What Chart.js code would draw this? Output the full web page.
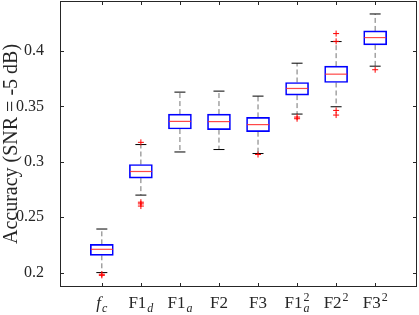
<!DOCTYPE html>
<html><head><meta charset="utf-8">
<script src="https://cdn.jsdelivr.net/npm/chart.js@4/dist/chart.umd.min.js"></script>
<style>html,body{margin:0;padding:0;background:#fff}#wrap{width:419px;height:315px}</style>
</head><body><div id="wrap"><canvas id="c" width="419" height="315"></canvas></div>
<script>
// ---- data ----
const labelMain = ['f', 'F1', 'F1', 'F2', 'F3', 'F1', 'F2', 'F3'];
const labelSub  = ['c', 'd', 'a', '', '', 'a', '', ''];
const labelSup  = ['', '', '', '', '', '2', '2', '2'];
const whiskerLow  = [0.2000, 0.2699, 0.3088, 0.3110, 0.3074, 0.3430, 0.3496, 0.3862];
const q1          = [0.2156, 0.2852, 0.3295, 0.3290, 0.3271, 0.3601, 0.3715, 0.4054];
const median      = [0.2210, 0.2912, 0.3364, 0.3362, 0.3335, 0.3661, 0.3790, 0.4120];
const q3          = [0.2255, 0.2975, 0.3430, 0.3430, 0.3400, 0.3715, 0.3862, 0.4180];
const whiskerHigh = [0.2393, 0.3155, 0.3628, 0.3637, 0.3592, 0.3889, 0.4084, 0.4333];
const outlierCat  = [1, 1, 2, 2, 2, 2, 5, 6, 6, 7, 7, 7, 7, 8];
const outlierVal  = [0.1975, 0.1985, 0.3175, 0.2635, 0.2620, 0.2600, 0.3065, 0.3403, 0.3388, 0.4156, 0.4086, 0.3463, 0.3421, 0.3830];
const yTicks = [0.2, 0.25, 0.3, 0.35, 0.4];
const yTitle = 'Accuracy (SNR = -5 dB)';

const FONT = '"Liberation Serif", "Times New Roman", serif';
const idx = labelMain.map((_, i) => i + 1);

const whiskerData = [];
idx.forEach((x, i) => {
  whiskerData.push({x, y: q3[i]}, {x, y: whiskerHigh[i]}, {x, y: null});
  whiskerData.push({x, y: q1[i]}, {x, y: whiskerLow[i]}, {x, y: null});
});

const framePlugin = {
  id: 'frame',
  afterDraw(chart) {
    const {ctx, chartArea: a, scales} = chart;
    ctx.save();
    ctx.strokeStyle = '#262626';
    ctx.lineWidth = 1;
    ctx.strokeRect(Math.round(a.left) + 0.5, Math.round(a.top) + 0.5,
      Math.round(a.right - a.left) - 1, Math.round(a.bottom - a.top) - 1);
    ctx.beginPath();
    const L = 4;
    yTicks.forEach(v => {
      const y = Math.round(scales.y.getPixelForValue(v)) + 0.5;
      ctx.moveTo(a.left, y); ctx.lineTo(a.left + L, y);
      ctx.moveTo(a.right, y); ctx.lineTo(a.right - L, y);
    });
    idx.forEach(v => {
      const x = Math.round(scales.x.getPixelForValue(v)) + 0.5;
      ctx.moveTo(x, a.bottom); ctx.lineTo(x, a.bottom - L);
      ctx.moveTo(x, a.top); ctx.lineTo(x, a.top + L);
    });
    ctx.stroke();
    // x tick labels with sub/superscripts
    ctx.fillStyle = '#262626';
    ctx.textBaseline = 'alphabetic';
    ctx.textAlign = 'left';
    const base = a.bottom + 21;
    idx.forEach((v, i) => {
      const mainFont = (i === 0 ? 'italic ' : '') + '17px ' + FONT;
      const subFont = 'italic 12px ' + FONT;
      const supFont = '12px ' + FONT;
      ctx.font = mainFont; const wm = ctx.measureText(labelMain[i]).width;
      ctx.font = subFont; const ws = labelSub[i] ? ctx.measureText(labelSub[i]).width : 0;
      ctx.font = supFont; const wp = labelSup[i] ? ctx.measureText(labelSup[i]).width : 0;
      const w = wm + Math.max(ws, wp) + (ws || wp ? 1 : 0);
      let x0 = scales.x.getPixelForValue(v) - w / 2;
      ctx.font = mainFont; ctx.fillText(labelMain[i], x0, base);
      if (labelSub[i]) { ctx.font = subFont; ctx.fillText(labelSub[i], x0 + wm + 1, base + 4); }
      if (labelSup[i]) { ctx.font = supFont; ctx.fillText(labelSup[i], x0 + wm + 1, base - 7); }
    });
    ctx.restore();
  }
};

new Chart(document.getElementById('c'), {
  type: 'bar',
  data: {
    datasets: [
      {
        type: 'line', data: whiskerData, borderColor: 'rgba(0,0,0,0.55)', borderWidth: 1,
        borderDash: [5, 3], pointRadius: 0, spanGaps: false, order: 5
      },
      {
        type: 'bar', data: idx.map((x, i) => ({x, y: [q1[i], q3[i]]})),
        backgroundColor: 'rgba(255,255,255,0)', borderColor: '#0000ff', borderWidth: 1,
        borderSkipped: false, barThickness: 23, order: 4
      },
      {
        type: 'scatter', data: idx.map((x, i) => ({x, y: median[i]})),
        pointStyle: 'line', pointRadius: 11, borderColor: 'rgba(255,40,40,0.85)', borderWidth: 1.2, order: 3
      },
      {
        type: 'scatter', data: idx.flatMap((x, i) => [{x, y: whiskerLow[i]}, {x, y: whiskerHigh[i]}]),
        pointStyle: 'line', pointRadius: 5.5, borderColor: '#000', borderWidth: 1, order: 2
      },
      {
        type: 'scatter', data: outlierCat.map((c, i) => ({x: c, y: outlierVal[i]})),
        pointStyle: 'cross', pointRadius: 3, borderColor: '#ff0000', borderWidth: 1, order: 1
      }
    ]
  },
  options: {
    responsive: false, animation: false,
    layout: {autoPadding: false, padding: {top: 1, right: 2, left: 0, bottom: 0}},
    plugins: {legend: {display: false}, tooltip: {enabled: false}},
    scales: {
      x: {
        type: 'linear', min: 0.5, max: 8.5,
        grid: {display: false}, border: {display: false},
        ticks: {display: false},
        afterBuildTicks: s => { s.ticks = idx.map(v => ({value: v})); },
        afterFit: s => { s.height = 28; s.paddingLeft = 0; s.paddingRight = 0; s.paddingTop = 0; s.paddingBottom = 0; }
      },
      y: {
        type: 'linear', min: 0.187, max: 0.445,
        grid: {display: false}, border: {display: false},
        afterBuildTicks: s => { s.ticks = yTicks.map(v => ({value: v})); },
        ticks: {color: '#262626', font: {family: FONT, size: 16}, padding: 8,
                callback: v => String(v)},
        title: {display: true, text: yTitle, color: '#262626',
                font: {family: FONT, size: 20}, padding: {top: 0, bottom: 0}},
        afterFit: s => { s.width = 60; s.paddingLeft = 0; s.paddingRight = 0; s.paddingTop = 0; s.paddingBottom = 0; }
      }
    }
  },
  plugins: [framePlugin]
});
</script>
</body></html>
